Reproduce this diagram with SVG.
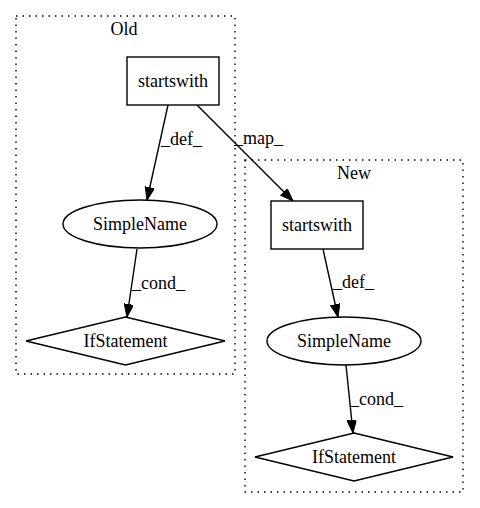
<svg xmlns="http://www.w3.org/2000/svg" width="480" height="508" viewBox="0 0 480 508">
<style>
text { font-family: "Liberation Serif", "Times New Roman", serif; font-size: 18px; fill: #000; }
.mid { text-anchor: middle; }
.cluster { fill: none; stroke: #000; stroke-width: 1.4; stroke-dasharray: 1.5 5; }
.node { fill: #fff; stroke: #000; stroke-width: 1.4; }
.edge { fill: none; stroke: #000; stroke-width: 1.4; }
</style>
<defs>
<marker id="arrow" markerUnits="userSpaceOnUse" markerWidth="14" markerHeight="10" refX="13" refY="4.75" orient="auto">
<path d="M0,0 L13,4.75 L0,9.5 z" fill="#000" stroke="#000" stroke-width="1"/>
</marker>
</defs>
<rect width="480" height="508" fill="#fff"/>
<g id="cluster_old">
<rect class="cluster" x="16" y="16" width="219" height="358"/>
<text class="mid" x="124" y="35">Old</text>
</g>
<g id="cluster_new">
<rect class="cluster" x="245" y="160" width="218" height="332"/>
<text class="mid" x="354" y="179">New</text>
</g>
<g id="connectors">
<path class="edge" d="M168,105 L147,200" marker-end="url(#arrow)"/>
<text x="161" y="145">_def_</text>
<path class="edge" d="M197,105 L293,201" marker-end="url(#arrow)"/>
<text x="234" y="144">_map_</text>
<path class="edge" d="M137,249 L127,317" marker-end="url(#arrow)"/>
<text x="132" y="289">_cond_</text>
<path class="edge" d="M323,249 L338,317" marker-end="url(#arrow)"/>
<text x="333" y="288">_def_</text>
<path class="edge" d="M346,365 L353,433" marker-end="url(#arrow)"/>
<text x="350" y="405">_cond_</text>
</g>
<g id="old_startswith">
<rect class="node" x="127" y="57" width="92" height="48"/>
<text class="mid" x="173" y="87">startswith</text>
</g>
<g id="old_simplename">
<ellipse class="node" cx="140" cy="224" rx="77" ry="24"/>
<text class="mid" x="140" y="230">SimpleName</text>
</g>
<g id="old_ifstatement">
<polygon class="node" points="125.5,317 225,341 125.5,365 26,341"/>
<text class="mid" x="125.5" y="347">IfStatement</text>
</g>
<g id="new_startswith">
<rect class="node" x="271" y="201" width="92" height="48"/>
<text class="mid" x="317" y="231">startswith</text>
</g>
<g id="new_simplename">
<ellipse class="node" cx="344" cy="341" rx="77" ry="24"/>
<text class="mid" x="344" y="347">SimpleName</text>
</g>
<g id="new_ifstatement">
<polygon class="node" points="354,433 453,457 354,481 255,457"/>
<text class="mid" x="354" y="463">IfStatement</text>
</g>
</svg>
